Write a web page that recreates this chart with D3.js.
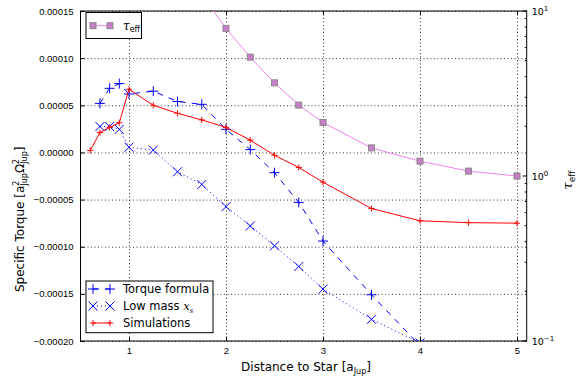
<!DOCTYPE html>
<html>
<head>
<meta charset="utf-8">
<script src="https://cdn.jsdelivr.net/npm/d3@7"></script>
<style>
  body { margin: 0; background: #fff; }
  svg { font-family: 'DejaVu Sans', sans-serif; }
  .tick text { font-size: 9.5px; fill: #000; }
  .tick line { stroke: #000; }
  .grid line { stroke: #000; stroke-width: 0.8; stroke-dasharray: 1,2.5; }
  .grid path { display: none; }
</style>
</head>
<body>
<div id="chart"></div>
<script>
const width = 576;
const height = 379;
const plotLeft = 80.5;
const plotRight = 526.7;
const plotTop = 11;
const plotBottom = 341;

// torque formula and low mass x_s share the same distances
const formulaDist = [0.7, 0.8, 0.9, 1.0, 1.25, 1.5, 1.75, 2.0, 2.25, 2.5, 2.75, 3.0, 3.5, 4.0];
const formulaTorque = [5.2e-5, 6.8e-5, 7.3e-5, 6.2e-5, 6.5e-5, 5.4e-5, 5.1e-5, 2.45e-5, 0.3e-5,
  -2.15e-5, -5.3e-5, -9.4e-5, -1.51e-4, -2.05e-4];
const lowMassTorque = [2.75e-5, 2.75e-5, 2.45e-5, 0.55e-5, 0.25e-5, -2.05e-5, -3.4e-5, -5.75e-5,
  -7.8e-5, -9.9e-5, -1.21e-4, -1.45e-4, -1.77e-4, -2.02e-4];

const simDist = [0.6, 0.7, 0.8, 0.9, 1.0, 1.25, 1.5, 1.75, 2.0, 2.25, 2.5, 2.75, 3.0, 3.5, 4.0, 4.5, 5.0];
const simTorque = [0.2e-5, 2.1e-5, 2.65e-5, 3.15e-5, 6.7e-5, 5.0e-5, 4.15e-5, 3.45e-5, 2.65e-5,
  1.3e-5, -0.3e-5, -1.6e-5, -3.15e-5, -5.95e-5, -7.25e-5, -7.45e-5, -7.5e-5];

const tauDist = [1.75, 2.0, 2.25, 2.5, 2.75, 3.0, 3.5, 4.0, 4.5, 5.0];
const tauEff = [12.5, 7.85, 5.25, 3.67, 2.69, 2.11, 1.48, 1.23, 1.07, 1.0];

const xTicks = [1, 2, 3, 4, 5];
const yTicks = [0.00015, 0.0001, 0.00005, 0, -0.00005, -0.0001, -0.00015, -0.0002];
const tauMajor = [0.1, 1, 10];
const tauMinor = [0.2, 0.3, 0.4, 0.5, 0.6, 0.7, 0.8, 0.9, 2, 3, 4, 5, 6, 7, 8, 9];
const tauLabels = [['10', '-1'], ['10', '0'], ['10', '1']];

const blue = '#0000ff';
const red = '#ff0000';
const violet = '#ee82ee';

const svg = d3.select('#chart')
  .append('svg')
  .attr('width', width)
  .attr('height', height);

const x = d3.scaleLinear().domain([0.5, 5.1]).range([plotLeft, plotRight]);
const y = d3.scaleLinear().domain([-0.0002, 0.00015]).range([plotBottom, plotTop]);
const yTau = d3.scaleLog().domain([0.1, 10]).range([plotBottom, plotTop]);

svg.append('clipPath')
  .attr('id', 'plot-clip')
  .append('rect')
  .attr('x', plotLeft)
  .attr('y', plotTop)
  .attr('width', plotRight - plotLeft)
  .attr('height', plotBottom - plotTop);

/* grid */
svg.append('g')
  .attr('class', 'grid')
  .attr('transform', `translate(0, ${plotBottom})`)
  .call(d3.axisBottom(x).tickValues(xTicks).tickFormat('').tickSize(-(plotBottom - plotTop)));

svg.append('g')
  .attr('class', 'grid')
  .attr('transform', `translate(${plotLeft}, 0)`)
  .call(d3.axisLeft(y).tickValues(yTicks).tickFormat('').tickSize(-(plotRight - plotLeft)));

/* axes */
svg.append('g')
  .attr('transform', `translate(0, ${plotBottom})`)
  .call(d3.axisBottom(x).tickValues(xTicks).tickFormat(d3.format('d'))
    .tickSizeInner(-4).tickSizeOuter(0).tickPadding(6))
  .call(g => g.select('.domain').remove());

svg.append('g')
  .attr('transform', `translate(0, ${plotTop})`)
  .call(d3.axisTop(x).tickValues(xTicks).tickFormat('').tickSizeInner(-4).tickSizeOuter(0))
  .call(g => g.select('.domain').remove());

svg.append('g')
  .attr('transform', `translate(${plotLeft}, 0)`)
  .call(d3.axisLeft(y).tickValues(yTicks).tickFormat(d3.format('.5f'))
    .tickSizeInner(-4).tickSizeOuter(0).tickPadding(7))
  .call(g => g.select('.domain').remove());

const rightAxis = svg.append('g').attr('transform', `translate(${plotRight}, 0)`);
rightAxis.selectAll('.major')
  .data(tauMajor)
  .enter()
  .append('line')
  .attr('x1', 0).attr('x2', -4)
  .attr('y1', d => yTau(d)).attr('y2', d => yTau(d))
  .attr('stroke', '#000');
rightAxis.selectAll('.minor')
  .data(tauMinor)
  .enter()
  .append('line')
  .attr('x1', 0).attr('x2', -2)
  .attr('y1', d => yTau(d)).attr('y2', d => yTau(d))
  .attr('stroke', '#000');
const tauText = rightAxis.selectAll('.tau-label')
  .data(tauMajor)
  .enter()
  .append('text')
  .attr('x', 5)
  .attr('y', d => yTau(d) + 4)
  .style('font-size', '9.5px');
tauText.append('tspan').text((d, i) => tauLabels[i][0]);
tauText.append('tspan')
  .attr('dy', -4)
  .style('font-size', '7px')
  .text((d, i) => tauLabels[i][1].replace('-', '\u2212'));

/* frame */
svg.append('rect')
  .attr('x', plotLeft)
  .attr('y', plotTop)
  .attr('width', plotRight - plotLeft)
  .attr('height', plotBottom - plotTop)
  .attr('fill', 'none')
  .attr('stroke', '#000')
  .attr('stroke-width', 1);

/* markers */
const plusPath = r => `M${-r},0H${r}M0,${-r}V${r}`;
const crossPath = r => `M${-r},${-r}L${r},${r}M${-r},${r}L${r},${-r}`;

const plot = svg.append('g').attr('clip-path', 'url(#plot-clip)');

function drawSeries(xs, ys, yScale, opts) {
  const pts = xs.map((d, i) => [x(d), yScale(ys[i])]);
  plot.append('path')
    .attr('d', d3.line()(pts))
    .attr('fill', 'none')
    .attr('stroke', opts.color)
    .attr('stroke-width', 1)
    .attr('stroke-dasharray', opts.dash || null);
  plot.selectAll(null)
    .data(pts)
    .enter()
    .append(opts.square ? 'rect' : 'path')
    .each(function (p) {
      const m = d3.select(this);
      if (opts.square) {
        m.attr('x', p[0] - 3).attr('y', p[1] - 3).attr('width', 6).attr('height', 6)
          .attr('fill', '#c77dc7').attr('stroke', '#888').attr('stroke-width', 1);
      } else {
        m.attr('transform', `translate(${p[0]},${p[1]})`)
          .attr('d', opts.marker)
          .attr('fill', 'none')
          .attr('stroke', opts.color)
          .attr('stroke-width', 1);
      }
    });
}

drawSeries(tauDist, tauEff, yTau, { color: violet, square: true });
drawSeries(formulaDist, lowMassTorque, y, { color: blue, dash: '1,3', marker: crossPath(4.5) });
drawSeries(formulaDist, formulaTorque, y, { color: blue, dash: '6,6', marker: plusPath(5) });
drawSeries(simDist, simTorque, y, { color: red, marker: plusPath(3) });

/* labels */
svg.append('text')
  .attr('x', 306)
  .attr('y', 371)
  .style('text-anchor', 'middle')
  .style('font-size', '12px')
  .call(t => {
    t.append('tspan').text('Distance to Star [a');
    t.append('tspan').attr('dy', 3).style('font-size', '8px').text('Jup');
    t.append('tspan').attr('dy', -3).text(']');
  });

svg.append('text')
  .attr('transform', 'translate(24, 292) rotate(-90)')
  .style('font-size', '12px')
  .call(t => {
    t.append('tspan').text('Specific Torque [a');
    t.append('tspan').attr('dy', -5).style('font-size', '8px').text('2');
    t.append('tspan').attr('dx', -5).attr('dy', 8).style('font-size', '8px').text('Jup');
    t.append('tspan').attr('dy', -3).text('\u03a9');
    t.append('tspan').attr('dy', -5).style('font-size', '8px').text('2');
    t.append('tspan').attr('dx', -5).attr('dy', 8).style('font-size', '8px').text('Jup');
    t.append('tspan').attr('dy', -3).text(']');
  });

svg.append('text')
  .attr('transform', 'translate(572, 180) rotate(-90)')
  .style('text-anchor', 'middle')
  .style('font-size', '13px')
  .call(t => {
    t.append('tspan').style('font-style', 'italic').style('font-family', 'DejaVu Serif').text('\u03c4');
    t.append('tspan').attr('dy', 3).style('font-size', '9px').text('eff');
  });

/* legends */
const legendTop = svg.append('g');
legendTop.append('rect')
  .attr('x', 86).attr('y', 12.5).attr('width', 55.5).attr('height', 26)
  .attr('fill', '#fff').attr('stroke', '#000').attr('stroke-width', 1);
legendTop.append('line')
  .attr('x1', 93).attr('x2', 110).attr('y1', 25.7).attr('y2', 25.7)
  .attr('stroke', violet);
[93, 110].forEach(mx => {
  legendTop.append('rect')
    .attr('x', mx - 3).attr('y', 22.7).attr('width', 6).attr('height', 6)
    .attr('fill', '#c77dc7').attr('stroke', '#888');
});
legendTop.append('text')
  .attr('x', 123).attr('y', 29.5)
  .style('font-size', '12px')
  .call(t => {
    t.append('tspan').style('font-style', 'italic').style('font-family', 'DejaVu Serif').text('\u03c4');
    t.append('tspan').attr('dy', 2.5).style('font-size', '8px').text('eff');
  });

const legendItems = [
  { name: 'Torque formula', color: blue, dash: '6,6', marker: plusPath(5) },
  { name: 'Low mass ', color: blue, dash: '1,3', marker: crossPath(4.5), math: true },
  { name: 'Simulations', color: red, dash: null, marker: plusPath(3) },
];
const legendRows = [289, 306, 323];

const legendBottom = svg.append('g');
legendBottom.append('rect')
  .attr('x', 86).attr('y', 281).attr('width', 127).attr('height', 51.7)
  .attr('fill', '#fff').attr('stroke', '#000').attr('stroke-width', 1);
legendItems.forEach((item, i) => {
  const ly = legendRows[i];
  legendBottom.append('line')
    .attr('x1', 93).attr('x2', 110).attr('y1', ly).attr('y2', ly)
    .attr('stroke', item.color)
    .attr('stroke-dasharray', item.dash);
  [93, 110].forEach(mx => {
    legendBottom.append('path')
      .attr('transform', `translate(${mx},${ly})`)
      .attr('d', item.marker)
      .attr('fill', 'none')
      .attr('stroke', item.color);
  });
  const t = legendBottom.append('text')
    .attr('x', 123).attr('y', ly + 4)
    .style('font-size', '11.5px')
    .text(item.name);
  if (item.math) {
    t.append('tspan').style('font-style', 'italic').style('font-family', 'DejaVu Serif').text('x');
    t.append('tspan').attr('dy', 2.5).style('font-size', '7px')
      .style('font-style', 'italic').style('font-family', 'DejaVu Serif').text('s');
  }
});
</script>
</body>
</html>
